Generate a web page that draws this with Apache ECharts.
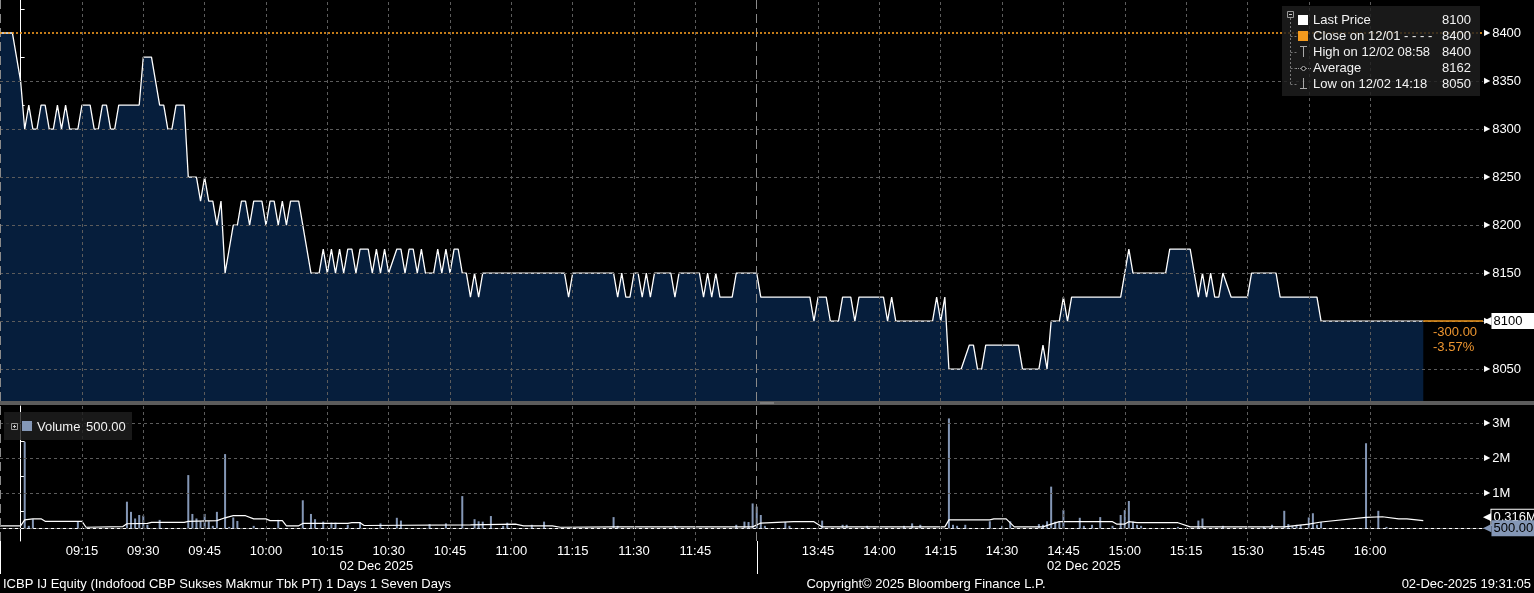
<!DOCTYPE html>
<html>
<head>
<meta charset="utf-8">
<title>ICBP IJ Equity</title>
<script src="https://cdn.jsdelivr.net/npm/echarts@6.0.0/dist/echarts.min.js"></script>
<style>
html,body{margin:0;padding:0;background:#000;overflow:hidden;}
#chart{width:1534px;height:593px;}
</style>
</head>
<body>
<div id="chart"></div>
<script>
// ---------------- DATA ----------------
const pricePoints = [
 ['08:55',8400],['08:58',8400],['09:00',8350],['09:01',8300],['09:02',8325],['09:03',8300],['09:04',8300],['09:05',8325],['09:06',8325],['09:07',8300],['09:08',8300],['09:09',8325],['09:10',8300],['09:11',8325],['09:12',8300],['09:14',8300],['09:15',8325],['09:17',8325],['09:18',8300],['09:19',8300],['09:20',8325],['09:21',8325],['09:22',8300],['09:23',8300],['09:24',8325],['09:29',8325],['09:30',8375],['09:32',8375],['09:34',8325],['09:35',8325],['09:36',8300],['09:37',8300],['09:38',8325],['09:40',8325],
 ['09:41',8250],['09:43',8250],['09:44',8225],['09:45',8250],['09:46',8225],['09:47',8225],['09:48',8200],['09:49',8225],['09:50',8150],['09:52',8200],['09:53',8200],['09:54',8225],['09:55',8225],['09:56',8200],['09:57',8225],['09:59',8225],['10:00',8200],['10:01',8225],['10:02',8225],['10:03',8200],['10:04',8225],['10:05',8200],['10:06',8225],['10:08',8225],
 ['10:11',8150],['10:13',8150],['10:14',8175],['10:15',8150],['10:16',8175],['10:17',8150],['10:18',8175],['10:19',8150],['10:20',8175],['10:21',8175],['10:22',8150],['10:23',8175],['10:25',8175],['10:26',8150],['10:27',8175],['10:28',8150],['10:29',8175],['10:30',8150],['10:32',8175],['10:33',8175],['10:34',8150],['10:35',8175],['10:36',8175],['10:37',8150],['10:38',8175],['10:39',8150],['10:41',8150],['10:42',8175],['10:43',8150],['10:44',8175],['10:45',8150],['10:46',8175],['10:47',8175],['10:48',8150],['10:49',8150],
 ['10:50',8125],['10:51',8150],['10:52',8125],['10:53',8150],['11:13',8150],['11:14',8125],['11:15',8150],['11:25',8150],['11:26',8125],['11:27',8150],['11:28',8125],['11:29',8125],['11:30',8150],['11:31',8150],['11:32',8125],['11:33',8150],['11:34',8125],['11:35',8150],['11:39',8150],['11:40',8125],['11:41',8150],['11:46',8150],['11:47',8125],['11:48',8150],['11:49',8125],['11:50',8150],['11:51',8125],['11:54',8125],['11:55',8150],['12:00',8150],
 ['13:31',8125],['13:43',8125],['13:44',8100],['13:45',8125],['13:47',8125],['13:48',8100],['13:50',8100],['13:51',8125],['13:53',8125],['13:54',8100],['13:55',8125],['14:01',8125],['14:02',8100],['14:03',8125],['14:04',8100],['14:13',8100],['14:14',8125],['14:15',8100],['14:16',8125],
 ['14:17',8050],['14:20',8050],['14:22',8075],['14:23',8075],['14:24',8050],['14:25',8050],['14:26',8075],['14:34',8075],['14:35',8050],['14:39',8050],['14:40',8075],['14:41',8050],['14:42',8100],['14:44',8100],['14:45',8125],['14:46',8100],['14:47',8125],['14:59',8125],
 ['15:01',8175],['15:02',8150],['15:10',8150],['15:11',8175],['15:16',8175],['15:18',8125],['15:19',8150],['15:20',8125],['15:21',8150],['15:22',8125],['15:23',8125],['15:24',8150],['15:26',8125],['15:30',8125],['15:31',8150],['15:37',8150],['15:38',8125],['15:47',8125],['15:48',8100],['16:13',8100]
];
const volumePoints = [
 ['09:01',2470000],['09:02',70000],['09:03',260000],['09:14',200000],['09:26',760000],['09:27',470000],['09:28',280000],['09:29',380000],['09:30',360000],['09:31',100000],['09:34',240000],
 ['09:41',1520000],['09:42',410000],['09:43',280000],['09:44',200000],['09:45',410000],['09:46',200000],['09:47',70000],['09:48',470000],['09:50',2120000],['09:51',40000],['09:52',310000],['09:53',210000],['09:57',70000],
 ['10:03',240000],['10:09',800000],['10:11',410000],['10:12',260000],['10:14',190000],['10:16',160000],['10:17',160000],['10:20',100000],['10:23',180000],['10:28',140000],['10:32',300000],['10:33',220000],['10:40',120000],['10:44',140000],['10:48',920000],['10:51',260000],['10:52',200000],['10:53',190000],['10:55',350000],['10:58',70000],['10:59',160000],
 ['11:05',100000],['11:08',190000],['11:25',320000],['11:26',70000],['11:40',70000],['11:55',100000],['11:57',190000],['11:58',180000],['11:59',710000],
 ['13:30',620000],['13:31',380000],['13:32',70000],['13:37',180000],['13:38',70000],['13:46',220000],['13:51',100000],['13:52',100000],['13:57',70000],['14:06',70000],['14:08',140000],['14:10',100000],
 ['14:17',3140000],['14:18',100000],['14:19',70000],['14:21',100000],['14:27',200000],['14:30',70000],['14:32',200000],['14:39',120000],['14:40',100000],['14:41',200000],['14:42',1190000],['14:43',190000],['14:44',200000],['14:45',520000],['14:49',300000],['14:50',70000],['14:52',100000],['14:54',320000],['14:57',70000],['14:59',380000],
 ['15:00',520000],['15:01',780000],['15:02',190000],['15:03',100000],['15:04',70000],['15:13',40000],['15:18',220000],['15:19',280000],['15:24',70000],['15:34',40000],['15:36',100000],['15:39',500000],['15:40',120000],['15:41',70000],['15:42',100000],['15:43',100000],['15:45',310000],['15:46',430000],['15:47',100000],['15:48',180000],
 ['15:59',2430000],['16:02',500000],['16:04',40000],['16:13',500]
];
const volumeAvgPoints = [
 ['08:55',70000],['09:00',70000],['09:01',240000],['09:03',270000],['09:05',270000],['09:06',200000],['09:15',200000],['09:16',30000],['09:25',50000],['09:26',130000],['09:31',140000],['09:32',170000],['09:40',170000],['09:41',200000],['09:48',220000],['09:50',300000],['09:52',360000],['09:55',360000],['09:57',270000],
 ['10:00',270000],['10:01',220000],['10:04',220000],['10:05',70000],['10:08',70000],['10:09',140000],['10:20',140000],['10:21',160000],['10:23',160000],['10:24',80000],['10:50',100000],['11:01',120000],['11:03',70000],['11:10',70000],['11:12',30000],['11:25',40000],['11:59',40000],
 ['13:31',150000],['13:39',190000],['13:44',190000],['13:46',40000],['14:16',40000],['14:17',240000],['14:27',240000],['14:28',270000],['14:31',270000],['14:33',40000],['14:40',40000],['14:42',120000],['14:44',190000],['14:57',190000],['14:58',120000],
 ['15:00',120000],['15:01',190000],['15:03',160000],['15:13',160000],['15:16',40000],['15:39',40000],['15:45',120000],['15:48',180000],['15:59',310000],['16:03',330000],['16:07',270000],['16:09',270000],['16:13',220000]
];
const axisTimes = ['09:15','09:30','09:45','10:00','10:15','10:30','10:45','11:00','11:15','11:30','11:45','13:45','14:00','14:15','14:30','14:45','15:00','15:15','15:30','15:45','16:00'];
const sessionStarts = ['08:55','12:00'];
const dateLabelTimes = ['10:27','14:50'];
const dateLabelText = '02 Dec 2025';
const priceLabelTicks = [8050,8100,8150,8200,8250,8300,8350,8400];
const priceMinorTicks = [8025,8075,8125,8175,8225,8275,8325,8375,8425];
const volLabelTicks = [1000000,2000000,3000000];
const volMinorTicks = [500000,1500000,2500000];
const volGridLevels = [0,1000000,2000000,3000000];
const prevClose = 8400;
const volAvgLast = 316000;
const legendNames = ['Last Price','Close on 12/01 - - - -','High on 12/02 08:58','Average','Low on 12/02 14:18'];
const legendValues = [8100,8400,8400,8162,8050];
const footerLeft = 'ICBP IJ Equity (Indofood CBP Sukses Makmur Tbk PT) 1 Days 1 Seven Days';
const footerMid = 'Copyright\u00A9 2025 Bloomberg Finance L.P.';
const footerRight = '02-Dec-2025 19:31:05';

// ---------------- HELPERS ----------------
// trading-minute index: 09:00 -> 0, lunch break (12:00-13:30) removed
function toT(s){ const a=s.split(':').map(Number); const m=a[0]*60+a[1]; return m<=720 ? m-540 : m-630; }
function tLabel(t){ const m = t<=180 ? 540+t : 630+t; const h=Math.floor(m/60), mm=Math.round(m%60);
  return String(h).padStart(2,'0')+':'+String(mm).padStart(2,'0'); }

const FONT = '"Liberation Sans", Arial, sans-serif';
const ORANGE = '#f39a1e';
const NAVY = '#061e3c';
const VOLC = '#8497b6';
const GRIDC = '#5c5c5c';
const CLEAR = 'rgba(0,0,0,0)';
const X_MIN = -5.04, X_MAX = 357.6;

const pricePts = pricePoints.map(p=>[toT(p[0]),p[1]]);
const volPts = volumePoints.map(p=>[toT(p[0]),p[1]]);
const avgPts = volumeAvgPoints.map(p=>[toT(p[0]),p[1]]);
const tLast = pricePts[pricePts.length-1][0];
const lastPrice = pricePts[pricePts.length-1][1];
const lastVol = volPts[volPts.length-1][1];
const change = lastPrice - prevClose;
const changePct = change/prevClose*100;
const gridT = axisTimes.map(toT);
const sessT = sessionStarts.map(toT);

const dashed = {color:GRIDC, type:[3,3], width:1};
const sessStyle = {color:'#8a8a8a', type:[9,5], width:1};
function gridLines(levels, extra){
  return {
    silent:true, symbol:['none','none'], animation:false,
    label:{show:false}, emphasis:{disabled:true},
    lineStyle:dashed,
    data:[].concat(
      levels.map(v=>({yAxis:v})),
      gridT.map(t=>({xAxis:t})),
      sessT.map(t=>({xAxis:t, lineStyle:sessStyle})),
      extra||[]
    )
  };
}
const triRich = {t:{fontSize:8,color:'#fff',fontFamily:'DejaVu Sans',padding:[0,2,0,0]}};

const chart = echarts.init(document.getElementById('chart'));
const option = {
  backgroundColor:'#000',
  animation:false,
  textStyle:{fontFamily:FONT},
  grid:[
    {left:0, right:51, top:0, height:401},
    {left:0, right:51, top:406, height:135}
  ],
  xAxis:[
    {type:'value', gridIndex:0, min:X_MIN, max:X_MAX, show:false, splitLine:{show:false}},
    {type:'value', gridIndex:1, min:X_MIN, max:X_MAX,
      axisLine:{show:true, lineStyle:{color:'#fff', width:1}},
      axisTick:{show:false}, splitLine:{show:false},
      axisLabel:{customValues:gridT, formatter:v=>tLabel(v), color:'#fff', fontSize:13, fontFamily:FONT, margin:4}}
  ],
  yAxis:[
    {type:'value', gridIndex:0, position:'right', min:8016.7, max:8434.4,
      axisLine:{show:true, lineStyle:{color:'#fff', width:1}},
      axisTick:{show:true, customValues:priceMinorTicks, length:4, lineStyle:{color:'#fff'}},
      splitLine:{show:false},
      axisLabel:{customValues:priceLabelTicks, margin:1, color:'#fff', fontSize:13, fontFamily:FONT,
        formatter:v=>'{t|\u25B6}'+v, rich:triRich}},
    {type:'value', gridIndex:1, position:'right', min:-363000, max:3494000,
      axisLine:{show:true, lineStyle:{color:'#fff', width:1}},
      axisTick:{show:true, customValues:volMinorTicks, length:4, lineStyle:{color:'#fff'}},
      splitLine:{show:false},
      axisLabel:{customValues:volLabelTicks, margin:1, color:'#fff', fontSize:13, fontFamily:FONT,
        formatter:v=>'{t|\u25B6}'+(v/1e6)+'M', rich:triRich}}
  ],
  series:[
    {type:'line', xAxisIndex:0, yAxisIndex:0, data:pricePts, symbol:'none', silent:true, z:1,
      lineStyle:{opacity:0}, areaStyle:{color:NAVY, opacity:1, origin:'start'}},
    {type:'line', xAxisIndex:0, yAxisIndex:0, data:pricePts, symbol:'none', silent:true, z:2,
      lineStyle:{opacity:0},
      markLine:gridLines(priceLabelTicks.filter(v=>v!==prevClose),
        [{yAxis:prevClose, lineStyle:{color:ORANGE, type:[2,2], width:1.6}}])},
    {name:'Last Price', type:'line', xAxisIndex:0, yAxisIndex:0, data:pricePts, symbol:'none', silent:true, z:4,
      lineStyle:{color:'#fff', width:1.3},
      markLine:{silent:true, symbol:['none','none'], animation:false,
        data:[
          [{coord:[tLast,lastPrice], lineStyle:{color:ORANGE, width:1.5, type:'solid', opacity:1},
            label:{show:true, opacity:1, position:'end', distance:0, formatter:'{n|\u25C0}{b|'+lastPrice+'}',
              rich:{n:{fontSize:11,color:'#fff',fontFamily:'DejaVu Sans',padding:[0,0,0,0]},
                    b:{backgroundColor:'#fff',color:'#000',fontSize:13,fontFamily:FONT,padding:[2,20,1,2]}}}},
           {coord:[X_MAX,lastPrice]}],
          [{coord:[tLast,lastPrice], lineStyle:{color:CLEAR, opacity:1},
            label:{show:true, opacity:1, position:'insideEndBottom', distance:4,
              formatter:'{a|'+change.toFixed(2)+'}\n{a|'+changePct.toFixed(2)+'%}',
              rich:{a:{width:46, align:'left', color:'#ee9630', fontSize:13, fontFamily:FONT, lineHeight:15}}}},
           {coord:[X_MAX,lastPrice]}]
        ]}},
    {type:'line', xAxisIndex:1, yAxisIndex:1, data:avgPts, symbol:'none', silent:true, z:1,
      lineStyle:{opacity:0}, markLine:gridLines(volGridLevels)},
    {name:'Volume', type:'bar', xAxisIndex:1, yAxisIndex:1, data:volPts, barWidth:2, silent:true, z:3,
      itemStyle:{color:VOLC}},
    {type:'line', xAxisIndex:1, yAxisIndex:1, data:avgPts, symbol:'none', silent:true, z:4,
      lineStyle:{color:'#fff', width:1.2},
      markLine:{silent:true, symbol:['none','none'], animation:false,
        data:[
          {yAxis:volAvgLast, lineStyle:{color:CLEAR, opacity:1},
            label:{show:true, opacity:1, position:'end', distance:0, formatter:'{n|\u25C0}{b|'+(volAvgLast/1e6).toFixed(3)+'M}',
              rich:{n:{fontSize:11,color:'#fff',fontFamily:'DejaVu Sans'},
                    b:{backgroundColor:'#000',borderColor:'#fff',borderWidth:1,color:'#fff',fontSize:13,fontFamily:FONT,padding:[1,6,1,2]}}}},
          {yAxis:lastVol, lineStyle:{color:CLEAR, opacity:1},
            label:{show:true, opacity:1, position:'end', distance:0, formatter:'{n|\u25C0}{b|'+lastVol.toFixed(2)+'}',
              rich:{n:{fontSize:11,color:VOLC,fontFamily:'DejaVu Sans'},
                    b:{backgroundColor:VOLC,color:'#000',fontSize:13,fontFamily:FONT,padding:[2,8,1,2]}}}}
        ]}}
  ]
};
chart.setOption(option);

// ---------------- GRAPHIC (legends, separators, footer) ----------------
const g = [];
const txt = (text,x,y,align,color,size)=>({type:'text', silent:true, z:100,
  style:{text:text, x:x, y:y, fill:color||'#fff', font:(size||13)+'px '+FONT, textAlign:align||'left', textVerticalAlign:'middle'}});
const ln = (x1,y1,x2,y2,color,dash,w)=>({type:'line', silent:true, z:100,
  shape:{x1:x1,y1:y1,x2:x2,y2:y2}, style:{stroke:color, lineWidth:w||1, lineDash:dash||null}});
const rc = (x,y,w,h,fill,stroke)=>({type:'rect', silent:true, z:99, shape:{x:x,y:y,width:w,height:h},
  style:{fill:fill||'none', stroke:stroke||null, lineWidth:1}});

// panel separator
g.push(rc(0,401,1534,4,'#5c5c5c'));
g.push(rc(760,402.5,14,1,'#a0a0a0'));

// price legend
g.push(rc(1282,6,198,90,'rgba(30,30,30,0.82)'));
g.push(rc(1287.5,11.5,6,6,null,'#999'));
g.push(ln(1289,14.5,1292,14.5,'#ccc'));
g.push(ln(1290.5,18,1290.5,84,'#777',[2,2]));
const rowY = i=>20+i*16;
for(let i=1;i<5;i++) g.push(ln(1290.5,rowY(i)+0.5,1297,rowY(i)+0.5,'#777',[2,2]));
g.push(rc(1298,15,10,10,'#fff'));
g.push(rc(1298,31,10,10,ORANGE));
g.push(ln(1303.5,46,1303.5,57,'#aaa'));
g.push(ln(1300,46.5,1307,46.5,'#aaa'));
g.push(ln(1296,68.5,1311,68.5,'#999',[1,1]));
g.push({type:'circle', silent:true, z:100, shape:{cx:1303.5,cy:68.5,r:2}, style:{fill:'#000',stroke:'#aaa'}});
g.push(ln(1303.5,78,1303.5,89,'#aaa'));
g.push(ln(1300,88.5,1307,88.5,'#aaa'));
legendNames.forEach((n,i)=>{
  g.push(txt(n,1313,rowY(i)+0.5,'left','#f2f2f2'));
  g.push(txt(String(legendValues[i]),1471,rowY(i)+0.5,'right','#f2f2f2'));
});

// volume legend
g.push(rc(4,412,128,28,'rgba(30,30,30,0.82)'));
g.push(rc(11.5,423.5,6,6,null,'#999'));
g.push(ln(13,426.5,16,426.5,'#ccc'));
g.push(ln(14.5,425,14.5,428,'#ccc'));
g.push(rc(22,421,10,10,VOLC));
g.push(txt('Volume',37,427,'left','#f2f2f2'));
g.push(txt(lastVol.toFixed(2),86,427,'left','#f2f2f2'));

// session separators below the axis, date labels
sessT.forEach(t=>{
  const x = Math.round(chart.convertToPixel({xAxisIndex:1}, t))+0.5;
  g.push(ln(x,541,x,574,'#fff'));
});
dateLabelTimes.forEach(s=>{
  const x = chart.convertToPixel({xAxisIndex:1}, toT(s));
  g.push(txt(dateLabelText,x,566,'center','#fff'));
});

// footer
g.push(txt(footerLeft,3,584,'left','#fff'));
g.push(txt(footerMid,926,584,'center','#fff'));
g.push(txt(footerRight,1531,584,'right','#fff'));

chart.setOption({graphic:{elements:g}});
</script>
</body>
</html>
